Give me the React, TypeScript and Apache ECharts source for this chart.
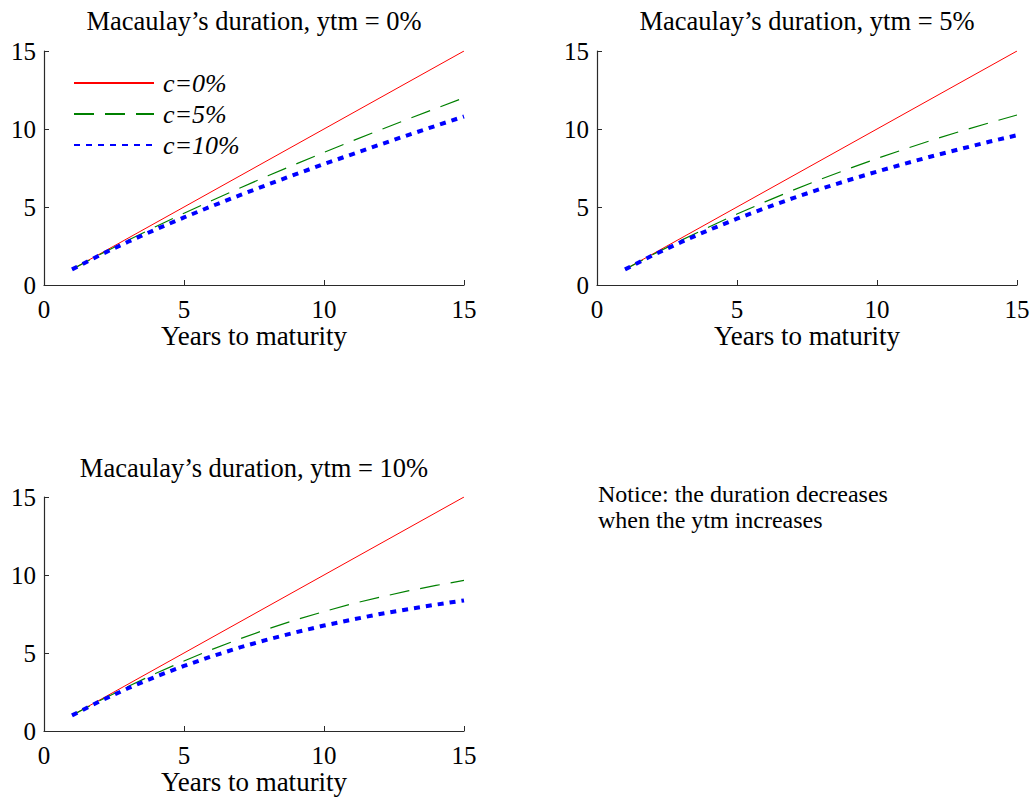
import React, { useEffect, useRef } from "react";
import * as echarts from "echarts";

const years = [1, 2, 3, 4, 5, 6, 7, 8, 9, 10, 11, 12, 13, 14, 15];
const xTicks = [0, 5, 10, 15];
const seriesNames = ["c=0%", "c=5%", "c=10%"];
const panelTitles = [
  "Macaulay\u2019s duration, ytm = 0%",
  "Macaulay\u2019s duration, ytm = 5%",
  "Macaulay\u2019s duration, ytm = 10%",
];
const xAxisTitle = "Years to maturity";
const noticeText = "Notice: the duration decreases\nwhen the ytm increases";

// c = 0% (zero coupon): duration equals maturity, same in all panels
const zeroCoupon = [1, 2, 3, 4, 5, 6, 7, 8, 9, 10, 11, 12, 13, 14, 15];
// ytm = 0%
const ytm0c5 = [1.0, 1.95, 2.87, 3.75, 4.6, 5.42, 6.22, 7.0, 7.76, 8.5, 9.23, 9.94, 10.64, 11.32, 12.0];
const ytm0c10 = [1.0, 1.92, 2.77, 3.57, 4.33, 5.06, 5.76, 6.44, 7.11, 7.75, 8.38, 9.0, 9.61, 10.21, 10.8];
// ytm = 5%
const ytm5c5 = [1.0, 1.95, 2.86, 3.72, 4.55, 5.33, 6.08, 6.79, 7.46, 8.11, 8.72, 9.31, 9.86, 10.39, 10.9];
const ytm5c10 = [1.0, 1.91, 2.75, 3.53, 4.25, 4.93, 5.57, 6.17, 6.73, 7.27, 7.78, 8.27, 8.73, 9.18, 9.6];
// ytm = 10%
const ytm10c5 = [1.0, 1.95, 2.85, 3.7, 4.49, 5.23, 5.91, 6.55, 7.13, 7.66, 8.15, 8.58, 8.98, 9.33, 9.65];
const ytm10c10 = [1.0, 1.91, 2.74, 3.49, 4.17, 4.79, 5.36, 5.87, 6.33, 6.76, 7.14, 7.5, 7.81, 8.1, 8.37];

const panels = [
  [zeroCoupon, ytm0c5, ytm0c10],
  [zeroCoupon, ytm5c5, ytm5c10],
  [zeroCoupon, ytm10c5, ytm10c10],
];

const FONT = "'Liberation Serif', 'Times New Roman', Times, serif";
const AXIS_COLOR = "#2a2a2a";

const grids = [
  { left: 44, top: 51, width: 420, height: 234 },
  { left: 597, top: 51, width: 420, height: 234 },
  { left: 44, top: 497, width: 420, height: 234 },
];

const lineStyles = [
  { color: "#ff0000", width: 1, type: "solid" as any },
  { color: "#008000", width: 1.2, type: [20, 11] as any },
  { color: "#0000ff", width: 4, type: [6, 6] as any },
];

export default function App() {
  const ref = useRef<HTMLDivElement>(null);

  useEffect(() => {
    if (!ref.current) return;
    const chart = echarts.init(ref.current, undefined, { renderer: "svg" });

    const xAxes = grids.map((_, i) => ({
      type: "value",
      gridIndex: i,
      min: xTicks[0],
      max: xTicks[xTicks.length - 1],
      interval: 5,
      name: xAxisTitle,
      nameLocation: "middle",
      nameGap: 34,
      nameTextStyle: { fontFamily: FONT, fontSize: 27, color: "#000" },
      axisLine: { show: true, onZero: false, lineStyle: { color: AXIS_COLOR, width: 1.2 } },
      axisTick: { show: true, inside: true, length: 5, lineStyle: { color: AXIS_COLOR, width: 1 } },
      axisLabel: { fontFamily: FONT, fontSize: 25, color: "#000", margin: 12 },
      splitLine: { show: false },
    }));

    const yAxes = grids.map((_, i) => ({
      type: "value",
      gridIndex: i,
      min: 0,
      max: 15,
      interval: 5,
      axisLine: { show: true, onZero: false, lineStyle: { color: AXIS_COLOR, width: 1.2 } },
      axisTick: { show: true, inside: true, length: 5, lineStyle: { color: AXIS_COLOR, width: 1 } },
      axisLabel: { fontFamily: FONT, fontSize: 25, color: "#000", margin: 8 },
      splitLine: { show: false },
    }));

    const series: any[] = [];
    panels.forEach((panel, p) => {
      panel.forEach((vals, s) => {
        series.push({
          type: "line",
          name: seriesNames[s],
          xAxisIndex: p,
          yAxisIndex: p,
          data: years.map((x, i) => [x, vals[i]]),
          symbol: "none",
          showSymbol: false,
          lineStyle: lineStyles[s],
          itemStyle: { color: lineStyles[s].color },
          z: 2 + s,
        });
      });
    });

    const titleCenters = grids.map((g) => g.left + g.width / 2);
    const titleYs = [21, 21, 468];

    const graphic: any[] = panelTitles.map((t, i) => ({
      type: "text",
      x: titleCenters[i],
      y: titleYs[i],
      style: {
        text: t,
        font: `26.5px ${FONT}`,
        fill: "#000",
        textAlign: "center",
        textVerticalAlign: "middle",
        align: "center",
        verticalAlign: "middle",
      },
    }));
    graphic.push({
      type: "text",
      x: 598,
      y: 481,
      style: {
        text: noticeText,
        font: `24px ${FONT}`,
        fill: "#000",
        lineHeight: 26,
        textAlign: "left",
        textVerticalAlign: "top",
        align: "left",
        verticalAlign: "top",
      },
    });

    chart.setOption({
      animation: false,
      backgroundColor: "#ffffff",
      grid: grids,
      xAxis: xAxes,
      yAxis: yAxes,
      legend: {
        show: true,
        orient: "vertical",
        left: 73,
        top: 70,
        padding: 0,
        itemWidth: 80,
        itemHeight: 2,
        itemGap: 5,
        selectedMode: false,
        data: seriesNames,
        itemStyle: { opacity: 0 },
        textStyle: {
          fontFamily: FONT,
          fontSize: 26,
          fontStyle: "italic",
          color: "#000",
          lineHeight: 26,
          padding: [0, 0, 0, 4],
        },
      },
      series,
      graphic,
    });

    return () => {
      chart.dispose();
    };
  }, []);

  return (
    <div
      ref={ref}
      style={{ position: "fixed", left: 0, top: 0, width: 1033, height: 800, background: "#fff" }}
    />
  );
}
